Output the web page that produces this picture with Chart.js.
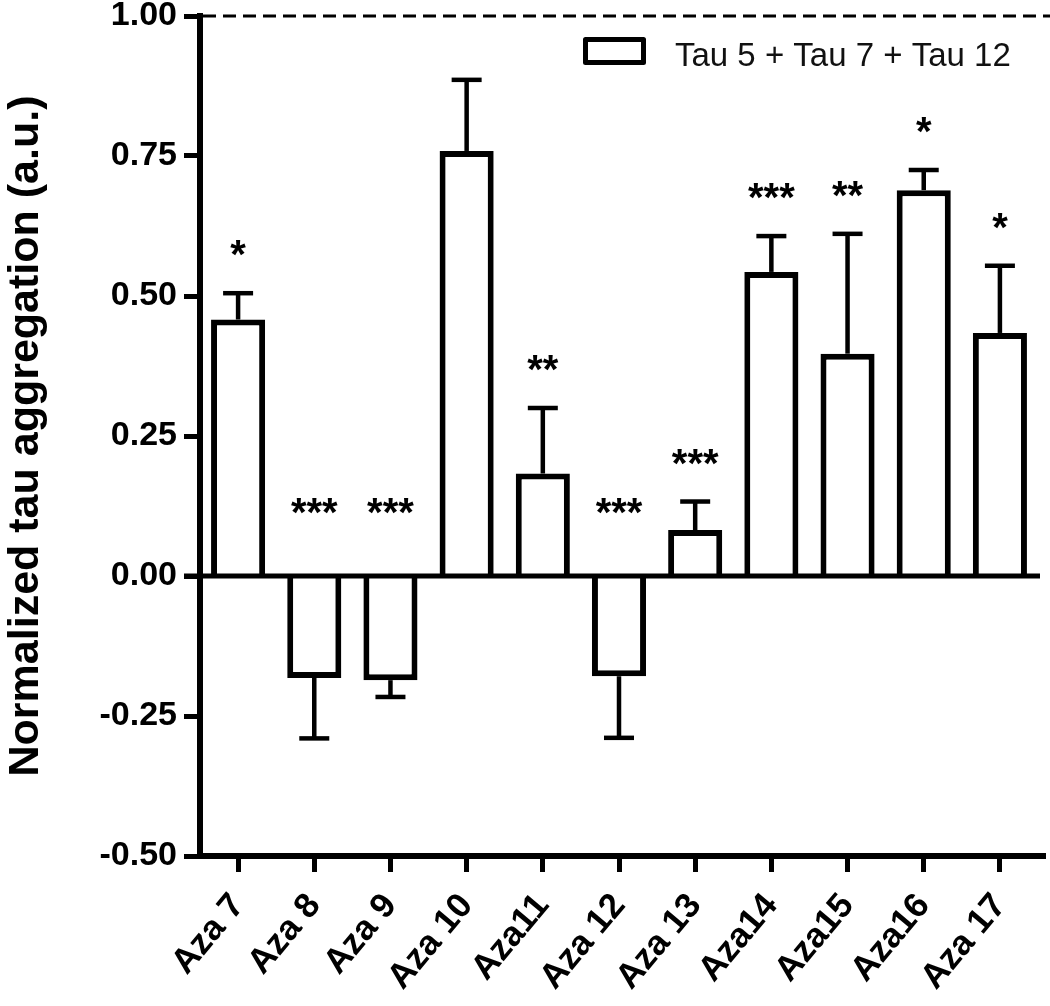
<!DOCTYPE html>
<html><head><meta charset="utf-8">
<script src="https://cdn.jsdelivr.net/npm/chart.js@4.4.1/dist/chart.umd.min.js"></script>
<style>html,body{margin:0;padding:0;background:#fff}#wrap{width:1050px;height:1006px;position:relative}</style>
</head><body><div id="wrap"><canvas id="c"></canvas></div>
<script>
const categories = ['Aza 7','Aza 8','Aza 9','Aza 10','Aza11','Aza 12','Aza 13','Aza14','Aza15','Aza16','Aza 17'];
const means = [0.458,-0.182,-0.186,0.759,0.183,-0.179,0.082,0.543,0.397,0.689,0.434];
const errors = [0.047,0.108,0.030,0.127,0.117,0.110,0.051,0.064,0.214,0.036,0.120];
const significance = ['*','***','***','','**','***','***','***','**','*','*'];
const seriesLabel = 'Tau 5 + Tau 7 + Tau 12';
const yTicks = [-0.5,-0.25,0,0.25,0.5,0.75,1.0];
const referenceLevel = 1.0;
const yTitle = 'Normalized tau aggregation (a.u.)';

const FONT = '"Liberation Sans", Arial, Helvetica, sans-serif';

const annotate = {
  id: 'annotate',
  afterDatasetsDraw(chart) {
    const {ctx, chartArea: ca, scales: {x, y}} = chart;
    const meta = chart.getDatasetMeta(0);
    ctx.save();
    ctx.strokeStyle = '#000'; ctx.fillStyle = '#000';
    const y0 = y.getPixelForValue(0);
    ctx.lineWidth = 5;
    ctx.beginPath(); ctx.moveTo(ca.left - 16, y0); ctx.lineTo(ca.right + 2, y0); ctx.stroke();
    const yr = y.getPixelForValue(referenceLevel);
    ctx.lineWidth = 3; ctx.setLineDash([13, 7]);
    ctx.beginPath(); ctx.moveTo(ca.left + 3, yr); ctx.lineTo(chart.width, yr); ctx.stroke();
    ctx.setLineDash([]);
    ctx.lineWidth = 4.5;
    meta.data.forEach((bar, i) => {
      const v = means[i], e = errors[i];
      const tip = v >= 0 ? v + e : v - e;
      const yv = y.getPixelForValue(v), yt = y.getPixelForValue(tip);
      const xc = bar.x;
      ctx.beginPath(); ctx.moveTo(xc, yv); ctx.lineTo(xc, yt); ctx.stroke();
      ctx.beginPath(); ctx.moveTo(xc - 15, yt); ctx.lineTo(xc + 15, yt); ctx.stroke();
      if (significance[i]) {
        const sy = v >= 0 ? yt - 42 : y0 - 67;
        ctx.font = 'bold 40px ' + FONT;
        ctx.textAlign = 'center'; ctx.textBaseline = 'alphabetic';
        ctx.fillText(significance[i], xc, sy + 17);
      }
    });
    // extend bottom axis slightly beyond the plot edge
    const yb = y.getPixelForValue(-0.5);
    ctx.lineWidth = 6;
    ctx.beginPath(); ctx.moveTo(ca.right - 2, yb); ctx.lineTo(ca.right + 8, yb); ctx.stroke();
    ctx.restore();
  },
  afterDraw(chart) {
    const {ctx, chartArea: ca} = chart;
    const ds = chart.data.datasets[0];
    ctx.save();
    ctx.strokeStyle = ds.borderColor; ctx.fillStyle = ds.backgroundColor;
    ctx.lineWidth = 5; ctx.lineJoin = 'round';
    ctx.fillRect(ca.left + 385.5, ca.top + 23.5, 58, 23);
    ctx.strokeRect(ca.left + 385.5, ca.top + 23.5, 58, 23);
    ctx.fillStyle = '#111';
    ctx.font = '33px ' + FONT;
    ctx.textAlign = 'left'; ctx.textBaseline = 'alphabetic';
    ctx.fillText(ds.label, ca.left + 475, ca.top + 50);
    ctx.restore();
  }
};

new Chart(document.getElementById('c'), {
  type: 'bar',
  data: {
    labels: categories,
    datasets: [{
      label: seriesLabel,
      data: means,
      backgroundColor: '#ffffff',
      borderColor: '#000000',
      borderWidth: 6,
      barPercentage: 0.71,
      categoryPercentage: 1.0
    }]
  },
  options: {
    responsive: true,
    maintainAspectRatio: false,
    animation: false,
    layout: {padding: {top: 16, right: 12, left: 0, bottom: 0}},
    plugins: {legend: {display: false}, tooltip: {enabled: false}},
    scales: {
      x: {
        offset: true,
        grid: {offset: false, drawOnChartArea: false, drawTicks: true, tickLength: 16, tickWidth: 5, tickColor: '#000'},
        border: {display: true, width: 6, color: '#000'},
        ticks: {autoSkip: false, minRotation: 50, maxRotation: 50, padding: 14, color: '#000',
          font: {family: FONT, size: 35, weight: 'bold'}},
        afterFit(scale) { scale.height = 150; }
      },
      y: {
        min: -0.5, max: 1.0,
        afterBuildTicks(scale) { scale.ticks = yTicks.map(v => ({value: v})); },
        grid: {drawOnChartArea: false, drawTicks: true, tickLength: 16, tickWidth: 5, tickColor: '#000'},
        border: {display: true, width: 6, color: '#000'},
        ticks: {padding: 7, color: '#000', callback: v => Number(v).toFixed(2),
          font: {family: FONT, size: 34, weight: 'bold', lineHeight: 0.5}},
        title: {display: true, text: yTitle, color: '#000', padding: 0,
          font: {family: FONT, size: 43, weight: 'bold'}},
        afterFit(scale) { scale.width = 200; }
      }
    }
  },
  plugins: [annotate]
});
</script>
</body></html>
